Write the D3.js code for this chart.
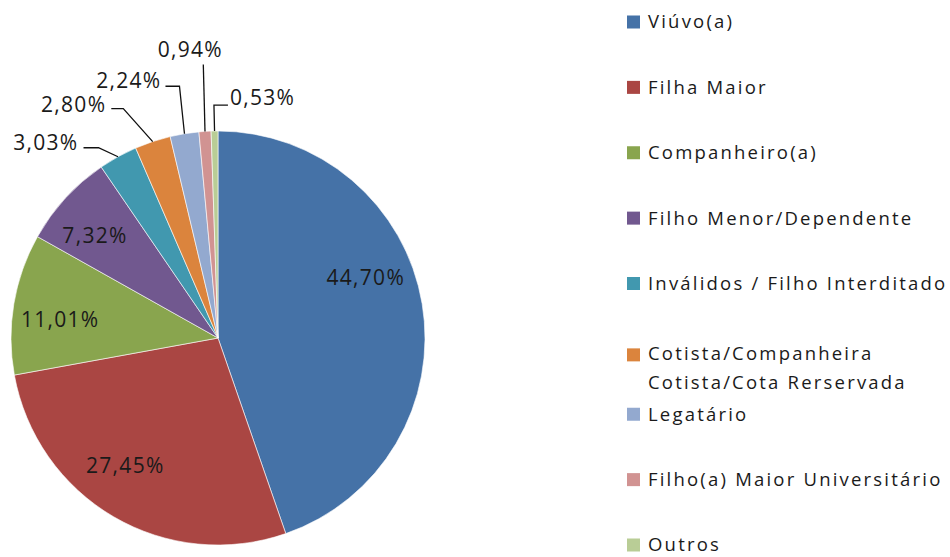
<!DOCTYPE html>
<html lang="pt">
<head>
<meta charset="utf-8">
<title>pie</title>
<script src="https://d3js.org/d3.v7.min.js"></script>
<style>
  body{margin:0;background:#fff;}
  text{font-family:"Open Sans",sans-serif;fill:#1a1a1a;}
</style>
</head>
<body>
<div id="chart1"></div>
<script>
// categories and values (percent)
var categories = ["Viúvo(a)","Filha Maior","Companheiro(a)","Filho Menor/Dependente",
  "Inválidos / Filho Interditado","Cotista/Companheira Cotista/Cota Rerservada",
  "Legatário","Filho(a) Maior Universitário","Outros"]
var legendLines = [["Viúvo(a)"],["Filha Maior"],["Companheiro(a)"],["Filho Menor/Dependente"],
  ["Inválidos / Filho Interditado"],["Cotista/Companheira","Cotista/Cota Rerservada"],
  ["Legatário"],["Filho(a) Maior Universitário"],["Outros"]]
var values = [44.70, 27.45, 11.01, 7.32, 3.03, 2.80, 2.24, 0.94, 0.53]
var colors = ["#4572A7","#AA4643","#89A54E","#71588F","#4198AF","#DB843D","#93A9CF","#D19392","#B9CD96"]

var w = 950, h = 557
var cx = 218, cy = 338, R = 207

var svg = d3.select("#chart1").append("svg").attr("width",w).attr("height",h)
var g = svg.append("g").attr("transform","translate("+cx+","+cy+")")

var pie = d3.pie().sort(null).value(function(d){return d})
var arcs = pie(values)
var arc = d3.arc().innerRadius(0).outerRadius(R)
var labelArc = d3.arc().innerRadius(160).outerRadius(160)
var edgeArc = d3.arc().innerRadius(R).outerRadius(R)

g.selectAll("path.slice")
  .data(arcs)
  .enter()
  .append("path")
  .attr("class","slice")
  .attr("d",arc)
  .attr("fill",function(d,i){return colors[i]})
  .attr("stroke","#fff")
  .attr("stroke-width",0.6)

function fmt(v){ return v.toFixed(2).replace(".",",")+"%" }

// inside labels for big slices (small nudges like excel's best fit)
var inNudge = {0:[-10,-34], 1:[-12,-11], 2:[0,8], 3:[-5,6]}
var inside = arcs.filter(function(d){return d.value > 5})
g.selectAll("text.inlabel")
  .data(inside)
  .enter()
  .append("text")
  .attr("class","inlabel")
  .attr("x",function(d){return labelArc.centroid(d)[0]+inNudge[d.index][0]})
  .attr("y",function(d){return labelArc.centroid(d)[1]+inNudge[d.index][1]})
  .attr("text-anchor","middle")
  .attr("dy","0.35em")
  .style("font-size","21px")
  .style("letter-spacing","1.3px")
  .text(function(d){return fmt(d.value)})

// outside labels with leader lines: offsets from the slice edge point
var outLayout = {
  4:{elbow:[-19.5,-9], end:[-34.5,-9], text:[-39.5,-14], anchor:"end"},
  5:{elbow:[-29.4,-33], end:[-41.4,-33], text:[-46.4,-37], anchor:"end"},
  6:{elbow:[-5,-47.5], end:[-19,-47.5], text:[-23,-53.5], anchor:"end"},
  7:{elbow:[-1.7,-67], end:[-1.7,-67], text:[-14.7,-82], anchor:"middle"},
  8:{elbow:[-0.6,-26], end:[13.4,-26], text:[15.4,-33], anchor:"start"}
}
var outside = arcs.filter(function(d){return d.value <= 5})
outside.forEach(function(d){
  var L = outLayout[d.index]
  var e = edgeArc.centroid(d)
  var pts = [e, [e[0]+L.elbow[0], e[1]+L.elbow[1]], [e[0]+L.end[0], e[1]+L.end[1]]]
  g.append("path")
    .attr("d",d3.line()(pts))
    .attr("fill","none")
    .attr("stroke","#111")
    .attr("stroke-width",1.3)
  g.append("text")
    .attr("x",e[0]+L.text[0])
    .attr("y",e[1]+L.text[1])
    .attr("text-anchor",L.anchor)
    .attr("dy","0.35em")
    .style("font-size","21px")
    .style("letter-spacing","1.3px")
    .text(fmt(d.value))
})

// legend
var legY = d3.scaleLinear().domain([0,8]).range([22,545])
var leg = svg.selectAll("g.leg")
  .data(categories)
  .enter()
  .append("g")
  .attr("class","leg")
  .attr("transform",function(d,i){return "translate(627,"+legY(i)+")"})
leg.append("rect")
  .attr("x",0)
  .attr("y",function(d,i){return (legendLines[i].length>1?6:0)-6.5})
  .attr("width",13)
  .attr("height",13)
  .attr("fill",function(d,i){return colors[i]})
leg.each(function(d,i){
  var t = d3.select(this).append("text")
    .attr("x",21)
    .attr("y",legendLines[i].length>1?5:0)
    .style("font-size","18.5px")
    .style("letter-spacing","2.2px")
  legendLines[i].forEach(function(line,k){
    t.append("tspan").attr("x",21).attr("dy",k==0?"0.35em":"1.55em").text(line)
  })
})
</script>
</body>
</html>
